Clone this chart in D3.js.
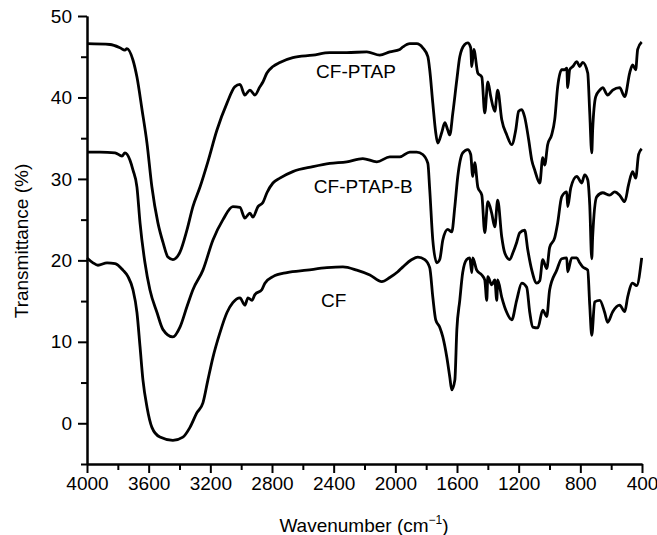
<!DOCTYPE html>
<html>
<head>
<meta charset="utf-8">
<script src="https://cdn.jsdelivr.net/npm/d3@7"></script>
<style>
body { margin: 0; background: #fff; }
svg { display: block; }
text { font-family: 'Liberation Sans', Arial, Helvetica, sans-serif; fill: #000; }
</style>
</head>
<body>
<script>
var width = 657
var height = 535

// FTIR spectra, [wavenumber (cm-1), transmittance (%)]
var cfPtap = [
    [4000,46.6],[3851,46.5],[3786,46.1],[3754,45.8],[3741,46.0],[3702,44.6],[3676,42.5],
    [3643,38.5],[3611,34.4],[3579,29.0],[3540,24.6],[3507,22.2],[3475,20.4],[3443,20.1],
    [3397,21.0],[3352,23.7],[3313,26.6],[3267,29.0],[3216,32.1],[3157,36.0],[3092,39.3],
    [3041,41.3],[3008,41.6],[2976,40.3],[2943,40.9],[2911,40.3],[2879,41.3],[2859,41.9],
    [2833,43.0],[2794,43.8],[2749,44.3],[2665,44.9],[2535,45.2],[2425,45.5],[2315,45.5],
    [2185,45.6],[2101,45.2],[2036,45.6],[1971,45.9],[1951,46.2],[1906,46.6],[1861,46.6],
    [1822,46.1],[1789,45.0],[1777,43.4],[1757,39.3],[1738,35.7],[1725,34.4],[1699,35.7],
    [1679,36.9],[1660,36.0],[1647,35.4],[1627,38.1],[1601,42.2],[1582,45.0],[1550,46.5],
    [1530,46.7],[1511,46.1],[1504,43.8],[1491,45.9],[1465,43.0],[1439,42.5],[1420,38.1],
    [1400,41.9],[1381,40.1],[1355,38.3],[1336,40.9],[1310,37.3],[1277,35.4],[1245,34.2],
    [1219,36.0],[1200,38.3],[1180,38.5],[1161,37.6],[1135,34.8],[1115,32.3],[1096,31.1],
    [1063,29.5],[1044,32.6],[1031,31.7],[1012,34.2],[986,35.4],[966,37.3],[947,41.3],
    [921,43.4],[901,43.4],[888,43.6],[882,41.2],[869,43.4],[849,43.8],[823,44.4],[804,43.8],
    [785,44.3],[752,43.0],[739,38.1],[726,33.2],[720,36.0],[700,40.1],[674,40.9],[655,41.2],
    [623,40.3],[590,40.9],[545,41.2],[512,40.1],[480,43.0],[461,44.0],[441,43.4],[428,45.9],
    [402,46.8]
]

var cfPtapB = [
    [4000,33.3],[3916,33.3],[3818,33.2],[3773,32.8],[3754,33.2],[3721,32.3],[3702,31.1],
    [3676,29.0],[3656,24.6],[3624,19.7],[3592,16.4],[3546,13.6],[3507,11.5],[3443,10.6],
    [3397,11.8],[3352,14.3],[3313,16.4],[3248,18.8],[3183,22.5],[3118,25.0],[3054,26.6],
    [3008,26.5],[2976,25.2],[2943,25.8],[2924,25.3],[2891,26.6],[2859,27.1],[2833,28.3],
    [2794,29.5],[2749,30.1],[2665,30.9],[2535,31.5],[2425,31.9],[2315,32.1],[2211,32.5],
    [2120,32.1],[2036,32.7],[1971,32.7],[1906,33.3],[1861,33.3],[1822,33.0],[1789,31.9],
    [1777,28.7],[1757,22.5],[1731,19.7],[1712,20.1],[1692,22.5],[1660,23.8],[1634,23.5],
    [1614,26.6],[1595,30.3],[1563,33.2],[1530,33.6],[1511,33.0],[1498,30.3],[1485,32.0],
    [1465,29.0],[1439,28.0],[1420,23.4],[1400,27.2],[1375,25.8],[1355,24.1],[1336,27.4],
    [1310,22.9],[1290,20.9],[1258,20.1],[1238,20.9],[1213,22.2],[1193,23.4],[1161,23.7],
    [1141,21.3],[1115,18.8],[1083,17.2],[1063,17.5],[1044,20.1],[1018,19.0],[999,21.6],
    [966,22.8],[947,24.6],[921,27.8],[888,28.4],[882,26.6],[862,28.9],[823,30.3],[791,29.5],
    [772,30.5],[752,29.9],[739,26.8],[726,20.2],[720,22.9],[694,27.8],[655,28.3],[610,28.0],
    [577,28.4],[545,28.0],[512,27.2],[487,29.3],[461,30.9],[441,30.1],[422,33.0],[402,33.7]
]

var cf = [
    [4000,20.3],[3961,19.7],[3929,19.4],[3870,19.7],[3818,19.6],[3767,18.8],[3734,18.0],
    [3702,16.4],[3676,13.6],[3656,9.4],[3637,5.3],[3611,2.0],[3579,-0.5],[3527,-1.7],
    [3443,-2.1],[3378,-1.7],[3332,-0.5],[3287,1.3],[3248,2.5],[3216,5.3],[3183,8.1],
    [3138,11.1],[3092,13.6],[3054,14.8],[3008,15.4],[2976,14.5],[2956,15.4],[2930,15.1],
    [2911,15.8],[2866,16.4],[2846,17.2],[2794,18.0],[2703,18.5],[2574,18.8],[2444,19.1],
    [2340,19.2],[2250,18.8],[2165,18.2],[2088,17.4],[2036,17.9],[1984,18.6],[1951,19.2],
    [1893,20.1],[1854,20.4],[1809,20.1],[1777,19.1],[1757,15.5],[1738,12.7],[1712,11.8],
    [1692,10.6],[1666,8.1],[1647,5.7],[1634,4.1],[1614,5.3],[1601,11.5],[1582,15.1],
    [1563,18.5],[1537,20.1],[1517,20.3],[1504,18.5],[1498,20.3],[1472,18.8],[1439,18.2],
    [1420,17.6],[1407,15.1],[1400,18.0],[1375,17.0],[1355,17.6],[1342,15.1],[1336,17.6],
    [1310,15.5],[1277,13.6],[1245,12.7],[1213,15.1],[1180,17.2],[1148,16.7],[1128,13.6],
    [1109,11.8],[1076,11.7],[1044,13.9],[1018,13.1],[999,16.4],[953,18.8],[921,20.2],
    [888,20.3],[882,18.6],[856,20.3],[823,20.3],[804,19.7],[785,19.2],[752,18.8],[739,14.5],
    [726,10.8],[707,14.9],[674,15.1],[642,13.6],[623,12.4],[590,13.7],[545,14.5],[512,13.7],
    [493,15.5],[461,17.2],[435,16.9],[402,20.3]
]

var seriesNames = ['CF-PTAP', 'CF-PTAP-B', 'CF']
var labelPos = [[2255, 42.4], [2208, 28.3], [2400, 14.3]]

var xTicks = [4000, 3600, 3200, 2800, 2400, 2000, 1600, 1200, 800, 400]
var xMinor = [3800, 3400, 3000, 2600, 2200, 1800, 1400, 1000, 600]
var yTicks = [0, 10, 20, 30, 40, 50]
var yMinor = [-5, 5, 15, 25, 35, 45]

var margin = {left: 87, right: 15, top: 16, bottom: 71}

var x = d3.scaleLinear()
    .domain([4000, 400])
    .range([margin.left, width - margin.right])

var y = d3.scaleLinear()
    .domain([-5, 50])
    .range([height - margin.bottom, margin.top])

var svg = d3.select('body').append('svg')
    .attr('width', width)
    .attr('height', height)

// minor ticks first so the major axis sits on top
svg.append('g')
    .attr('class', 'x minor')
    .attr('transform', 'translate(0,' + y(-5) + ')')
    .call(d3.axisBottom(x).tickValues(xMinor).tickSize(6).tickSizeOuter(0).tickFormat(''))

svg.append('g')
    .attr('class', 'y minor')
    .attr('transform', 'translate(' + x(4000) + ',0)')
    .call(d3.axisLeft(y).tickValues(yMinor).tickSize(6).tickSizeOuter(0).tickFormat(''))

svg.append('g')
    .attr('class', 'x axis')
    .attr('transform', 'translate(0,' + y(-5) + ')')
    .call(d3.axisBottom(x).tickValues(xTicks).tickSize(9).tickSizeOuter(0).tickPadding(4)
        .tickFormat(d3.format('d')))

svg.append('g')
    .attr('class', 'y axis')
    .attr('transform', 'translate(' + x(4000) + ',0)')
    .call(d3.axisLeft(y).tickValues(yTicks).tickSize(9).tickSizeOuter(0).tickPadding(6)
        .tickFormat(d3.format('d')))

svg.selectAll('.domain').style('stroke', '#000').style('stroke-width', 2)
svg.selectAll('.tick line').style('stroke', '#000').style('stroke-width', 2)
svg.selectAll('.tick text')
    .style('font-size', '19px')
    .style('font-family', "'Liberation Sans', Arial, sans-serif")

var line = d3.line()
    .curve(d3.curveMonotoneX)
    .x(function(d) { return x(d[0]) })
    .y(function(d) { return y(d[1]) })

svg.append('g')
    .attr('class', 'spectra')
    .selectAll('path')
    .data([cfPtap, cfPtapB, cf])
    .enter().append('path')
    .attr('d', line)
    .style('fill', 'none')
    .style('stroke', '#000')
    .style('stroke-width', 2.8)
    .style('stroke-linejoin', 'round')

svg.append('g')
    .attr('class', 'labels')
    .selectAll('text')
    .data(seriesNames)
    .enter().append('text')
    .attr('x', function(d, i) { return x(labelPos[i][0]) })
    .attr('y', function(d, i) { return y(labelPos[i][1]) })
    .attr('text-anchor', 'middle')
    .style('font-size', '19px')
    .text(function(d) { return d })

var xTitle = svg.append('text')
    .attr('x', 364)
    .attr('y', 532)
    .attr('text-anchor', 'middle')
    .style('font-size', '19px')
xTitle.append('tspan').text('Wavenumber (cm')
xTitle.append('tspan').attr('dy', -8).style('font-size', '12px').text('\u22121')
xTitle.append('tspan').attr('dy', 8).text(')')

svg.append('text')
    .attr('transform', 'translate(28,241) rotate(-90)')
    .attr('text-anchor', 'middle')
    .style('font-size', '19px')
    .text('Transmittance (%)')
</script>
</body>
</html>
